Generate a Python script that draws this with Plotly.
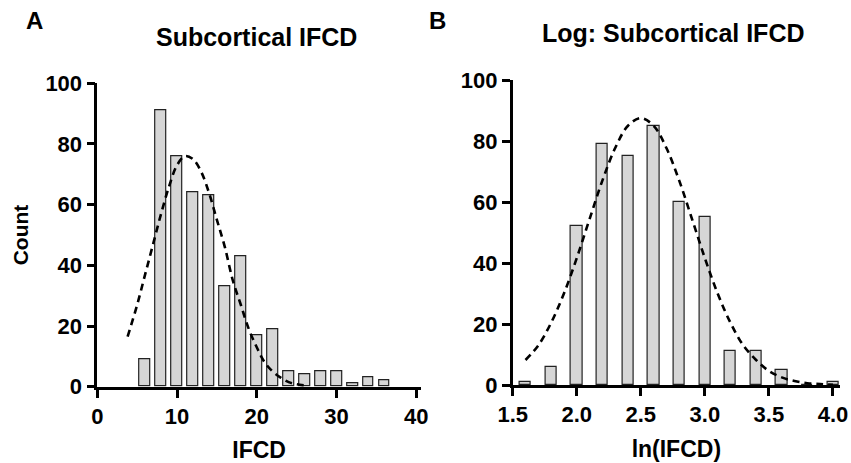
import plotly.graph_objects as go

# ---- Panel A data ----
ifcd_bins = [6, 8, 10, 12, 14, 16, 18, 20, 22, 24, 26, 28, 30, 32, 34, 36]
ifcd_counts = [9, 91, 76, 64, 63, 33, 43, 17, 19, 5, 4, 5, 5, 1, 3, 2]
ifcd_fit_x = [3.8, 5, 6, 7, 8, 9, 10, 11, 12, 13, 14, 15, 16, 17, 18, 19, 20, 21, 22, 23, 24, 25, 26]
ifcd_fit_y = [16.5, 27, 37, 47, 57, 66, 73, 76, 75, 71, 64, 55, 46, 35, 27, 19, 13, 8, 5, 3, 1.5, 0.8, 0.4]

# ---- Panel B data ----
ln_bins = [1.6, 1.8, 2.0, 2.2, 2.4, 2.6, 2.8, 3.0, 3.2, 3.4, 3.6, 3.8, 4.0]
ln_counts = [1, 6, 52, 79, 75, 85, 60, 55, 11, 11, 5, 0, 1]
ln_fit_x = [1.6, 1.7, 1.8, 1.9, 2.0, 2.1, 2.2, 2.3, 2.4, 2.5, 2.6, 2.7, 2.8, 2.9, 3.0,
            3.1, 3.2, 3.3, 3.4, 3.5, 3.6, 3.7, 3.8, 3.9, 4.0]
ln_fit_y = [8.2, 13, 20.4, 30, 41.6, 54.4, 67, 77.7, 85, 87.5, 85, 77.7, 67, 54.4, 41.6,
            30, 20.4, 13, 8.2, 4.6, 2.5, 1.3, 0.6, 0.3, 0.1]

W, H = 851, 463
FONT = "Arial, Liberation Sans, sans-serif"
BAR_FILL = "#d6d6d6"

def px_x(p):
    return p / W

def px_y(p):
    return 1 - p / H

fig = go.Figure()

fig.add_trace(go.Bar(x=ifcd_bins, y=ifcd_counts, width=1.35,
                     marker=dict(color=BAR_FILL, line=dict(color="#222", width=1.2)),
                     xaxis="x", yaxis="y", showlegend=False))
fig.add_trace(go.Scatter(x=ifcd_fit_x, y=ifcd_fit_y, mode="lines",
                         line=dict(color="black", width=2.6, dash="7px,5px", shape="spline"),
                         xaxis="x", yaxis="y", showlegend=False))

fig.add_trace(go.Bar(x=ln_bins, y=ln_counts, width=0.088,
                     marker=dict(color=BAR_FILL, line=dict(color="#222", width=1.2)),
                     xaxis="x2", yaxis="y2", showlegend=False))
fig.add_trace(go.Scatter(x=ln_fit_x, y=ln_fit_y, mode="lines",
                         line=dict(color="black", width=2.6, dash="7px,5px", shape="spline"),
                         xaxis="x2", yaxis="y2", showlegend=False))

axis_common = dict(showgrid=False, zeroline=False, showline=True, linecolor="black",
                   linewidth=2.6, ticks="outside", ticklen=8, tickwidth=2.6,
                   tickcolor="black",
                   tickfont=dict(family=FONT, size=22, color="black", weight="bold"),
                   fixedrange=True, automargin=False)

def label(text, x, y, size):
    return dict(text=f"<b>{text}</b>", x=px_x(x), y=px_y(y), xref="paper", yref="paper",
                xanchor="center", yanchor="middle", showarrow=False,
                font=dict(family=FONT, size=size, color="black"))

fig.update_layout(
    width=W, height=H,
    margin=dict(l=0, r=0, t=0, b=0, autoexpand=False),
    paper_bgcolor="white", plot_bgcolor="white",
    bargap=0,
    font=dict(family=FONT, color="black"),
    xaxis=dict(axis_common, domain=[px_x(97.3), px_x(421)], range=[0, 40.6],
               tickvals=[0, 10, 20, 30, 40], anchor="y",
               title=dict(text="<b>IFCD</b>", font=dict(family=FONT, size=23), standoff=15)),
    yaxis=dict(axis_common, domain=[px_y(386.7), px_y(83.3)], range=[0, 100],
               tickvals=[0, 20, 40, 60, 80, 100], anchor="x",
               title=dict(text="<b>Count</b>", font=dict(family=FONT, size=21), standoff=12)),
    xaxis2=dict(axis_common, domain=[px_x(512.7), px_x(840)], range=[1.5, 4.055],
                tickvals=[1.5, 2.0, 2.5, 3.0, 3.5, 4.0], ticktext=["1.5", "2.0", "2.5", "3.0", "3.5", "4.0"],
                anchor="y2",
                title=dict(text="<b>ln(IFCD)</b>", font=dict(family=FONT, size=23), standoff=15)),
    yaxis2=dict(axis_common, domain=[px_y(385), px_y(80)], range=[0, 100],
                tickvals=[0, 20, 40, 60, 80, 100], anchor="x2"),
    annotations=[
        label("A", 34, 20, 24),
        label("B", 437, 20, 24),
        label("Subcortical IFCD", 256, 37, 25),
        label("Log: Subcortical IFCD", 673, 32.5, 25),
    ],
)

fig.write_html("out.html", config={"displayModeBar": False},
               post_script="document.body.style.margin='0';document.body.style.overflow='hidden';")
